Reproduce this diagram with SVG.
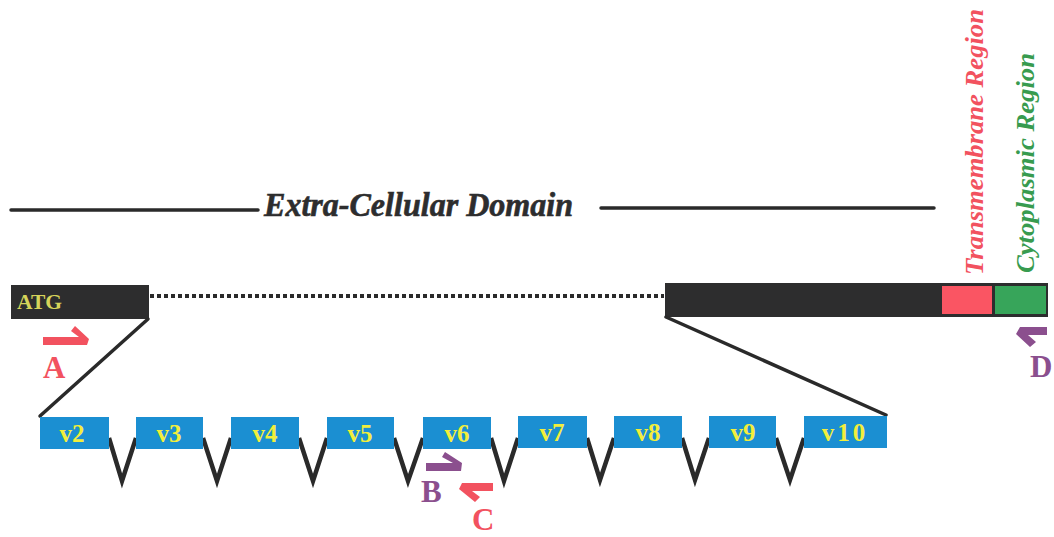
<svg xmlns="http://www.w3.org/2000/svg" width="1054" height="537" viewBox="0 0 1054 537">
<style>
.dark{fill:#2d2d2e}
.exon{fill:#1b8fd2}
.xl{font-family:"Liberation Serif",serif;font-weight:bold;font-size:25px;fill:#f2ee3c;text-anchor:middle}
.ln{stroke:#2a2a2a;stroke-width:3.5;fill:none;stroke-linecap:round;stroke-linejoin:miter}
.v{stroke:#2a2a2a;stroke-width:4.5;fill:none;stroke-linejoin:miter}
.lab{font-family:"Liberation Serif",serif;font-weight:bold;font-size:31px}
.reg{font-family:"Liberation Serif",serif;font-weight:bold;font-style:italic;font-size:26px}
.red{fill:#f2525f}
.pur{fill:#8b4f8e}
</style>
<rect width="1054" height="537" fill="#ffffff"/>

<g id="domain">
<line x1="11" y1="210" x2="258" y2="210" class="ln"/>
<line x1="601" y1="208" x2="934" y2="208" class="ln"/>
<text x="264" y="216" textLength="309" lengthAdjust="spacingAndGlyphs" style="font-family:'Liberation Serif',serif;font-weight:bold;font-style:italic;font-size:33px;fill:#2d2d2e;stroke:#2d2d2e;stroke-width:0.6">Extra-Cellular Domain</text>
</g>

<g id="transcript-left">
<rect x="11" y="285" width="138" height="34" class="dark"/>
<text x="17" y="309" textLength="45" lengthAdjust="spacingAndGlyphs" style="font-family:'Liberation Serif',serif;font-weight:bold;font-size:20px;fill:#d6d45a">ATG</text>
</g>

<g id="transcript-right">
<rect x="665" y="283" width="275" height="34" class="dark"/>
<rect x="939" y="283" width="55" height="34" fill="#2d2d2e"/>
<rect x="942" y="286" width="50" height="28" fill="#fa5563"/>
<rect x="993" y="283" width="55" height="34" fill="#2d2d2e"/>
<rect x="995" y="286" width="51" height="28" fill="#37a55a"/>
</g>

<g id="region-labels">
<text class="reg red" transform="translate(983,275) rotate(-90)" textLength="266" lengthAdjust="spacingAndGlyphs">Transmembrane Region</text>
<text class="reg" fill="#389b4f" transform="translate(1034,273) rotate(-90)" textLength="220" lengthAdjust="spacingAndGlyphs">Cytoplasmic Region</text>
</g>

<g id="connectors">
<line x1="150" y1="296" x2="664" y2="296" stroke="#2a2a2a" stroke-width="4" stroke-dasharray="4 3"/>
<line x1="148" y1="319" x2="40" y2="416" class="ln"/>
<line x1="666" y1="317" x2="886" y2="415" class="ln"/>
<polyline class="v" points="109,438 122,481 136,438"/>
<polyline class="v" points="203,438 217,481 231,438"/>
<polyline class="v" points="299,438 313,481 327,438"/>
<polyline class="v" points="394,438 408,481 423,438"/>
<polyline class="v" points="491,438 504,481 518,438"/>
<polyline class="v" points="587,438 600,480 614,438"/>
<polyline class="v" points="682,438 695,480 709,438"/>
<polyline class="v" points="776,438 790,480 804,438"/>
</g>

<g id="exon-v2"><rect x="40" y="417" width="69" height="32" class="exon"/><text x="72" y="442" class="xl">v2</text></g>
<g id="exon-v3"><rect x="136" y="417" width="67" height="32" class="exon"/><text x="169" y="442" class="xl">v3</text></g>
<g id="exon-v4"><rect x="231" y="417" width="68" height="32" class="exon"/><text x="265" y="442" class="xl">v4</text></g>
<g id="exon-v5"><rect x="327" y="417" width="67" height="32" class="exon"/><text x="360" y="442" class="xl">v5</text></g>
<g id="exon-v6"><rect x="423" y="417" width="68" height="32" class="exon"/><text x="457" y="442" class="xl">v6</text></g>
<g id="exon-v7"><rect x="518" y="416" width="69" height="32" class="exon"/><text x="552" y="441" class="xl">v7</text></g>
<g id="exon-v8"><rect x="614" y="416" width="68" height="32" class="exon"/><text x="648" y="441" class="xl">v8</text></g>
<g id="exon-v9"><rect x="709" y="416" width="67" height="32" class="exon"/><text x="743" y="441" class="xl">v9</text></g>
<g id="exon-v10"><rect x="804" y="416" width="83" height="32" class="exon"/><text x="845" y="441" class="xl" letter-spacing="3">v10</text></g>

<g id="primer-A">
<polygon class="red" points="43,337 79,337 71,331 75,326 89,339 87,345 43,345"/>
<text x="43" y="378" class="lab red">A</text>
</g>
<g id="primer-B">
<polygon class="pur" points="426,463 453,463 442,457 445,452 462,463 461,471 426,471"/>
<text x="421" y="502" class="lab pur">B</text>
</g>
<g id="primer-C">
<polygon class="red" points="493,483 462,483 459,489 475,502 480,497 472,491 493,491"/>
<text x="472" y="530" class="lab red">C</text>
</g>
<g id="primer-D">
<polygon class="pur" points="1047,327 1020,327 1016,334 1030,347 1036,342 1028,335 1047,335"/>
<text x="1030" y="377" class="lab pur">D</text>
</g>
</svg>
